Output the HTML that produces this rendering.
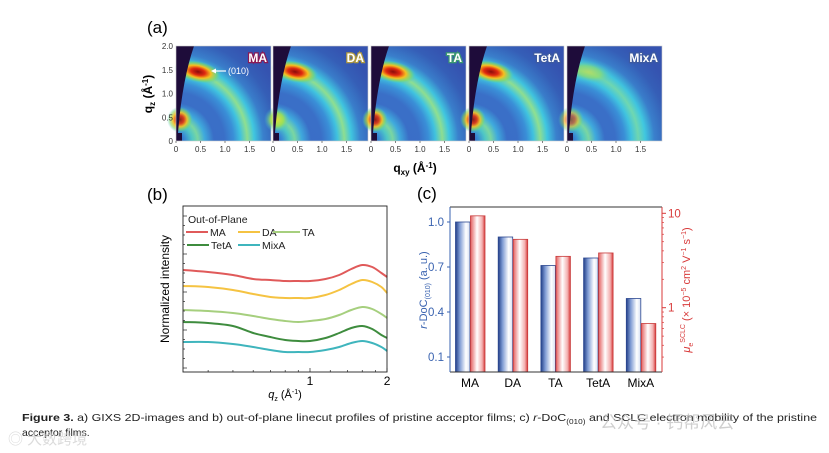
<!DOCTYPE html>
<html><head><meta charset="utf-8"><style>
html,body{margin:0;padding:0;background:#fff;}
svg{display:block;font-family:"Liberation Sans","Noto Sans CJK SC",sans-serif;}
</style></head><body>
<svg id="fig" width="829" height="453" viewBox="0 0 829 453" xmlns="http://www.w3.org/2000/svg">
<defs>
 <linearGradient id="gBlue" x1="0" x2="1" y1="0" y2="0">
  <stop offset="0" stop-color="#223f88"/><stop offset="0.3" stop-color="#7f9bd4"/><stop offset="0.72" stop-color="#ffffff"/><stop offset="1" stop-color="#d5def2"/>
 </linearGradient>
 <linearGradient id="gRed" x1="0" x2="1" y1="0" y2="0">
  <stop offset="0" stop-color="#e46060"/><stop offset="0.45" stop-color="#ffffff"/><stop offset="0.8" stop-color="#f3b0b0"/><stop offset="1" stop-color="#d63a3a"/>
 </linearGradient>
 <radialGradient id="hotR"><stop offset="0" stop-color="#8a0c0c"/><stop offset="0.3" stop-color="#e02a10"/><stop offset="0.55" stop-color="#f6c020"/><stop offset="0.8" stop-color="#80d860" stop-opacity="0.6"/><stop offset="1" stop-color="#40c0e0" stop-opacity="0"/></radialGradient>
 <radialGradient id="hotY"><stop offset="0" stop-color="#e8e030"/><stop offset="0.5" stop-color="#a0e050"/><stop offset="1" stop-color="#40c0e0" stop-opacity="0"/></radialGradient>
</defs>

<text x="147" y="33" font-size="17">(a)</text>
<g id="panelA"></g>
<text transform="translate(152,94) rotate(-90)" text-anchor="middle" font-size="12" font-weight="bold">q<tspan font-size="8" dy="3">z</tspan><tspan dy="-3"> (Å</tspan><tspan font-size="8" dy="-4">-1</tspan><tspan dy="4">)</tspan></text>
<text x="415" y="172" text-anchor="middle" font-size="12" font-weight="bold">q<tspan font-size="8" dy="3">xy</tspan><tspan dy="-3"> (Å</tspan><tspan font-size="8" dy="-4">-1</tspan><tspan dy="4">)</tspan></text>

<text x="147" y="200" font-size="17">(b)</text>
<g id="panelB"></g>

<text x="417" y="199" font-size="17">(c)</text>
<g id="panelC"></g>

<g font-size="10.5" fill="#222">
 <text x="22" y="421" textLength="795" lengthAdjust="spacingAndGlyphs"><tspan font-weight="bold">Figure 3.</tspan> a) GIXS 2D-images and b) out-of-plane linecut profiles of pristine acceptor films; c) <tspan font-style="italic">r</tspan>-DoC<tspan font-size="7" dy="3">(010)</tspan><tspan dy="-3"> and SCLC electron mobility of the pristine</tspan></text>
 <text x="22" y="436">acceptor films.</text>
</g>
<text x="600" y="428" font-size="17" fill="#bbb" opacity="0.7">公众号 · 钙帮风云</text>
<text x="8" y="444" font-size="15" fill="#ccc" opacity="0.7">◎ 大数跨境</text>
</svg>
<script>
const NS="http://www.w3.org/2000/svg";
function mk(parent,tag,attrs,txt){const e=document.createElementNS(NS,tag);for(const k in attrs)e.setAttribute(k,attrs[k]);if(txt!==undefined)e.textContent=txt;parent.appendChild(e);return e;}

/* ---------- Panel (a) ---------- */
const samples=["MA","DA","TA","TetA","MixA"];
const hotStrength=[1.0,0.9,0.85,0.85,0.35];
const labelGlow=["#8a1a55","#b09a40","#3a9a70","#3d5aa0","#3d5aa0"];
const qTicks=["0","0.5","1.0","1.5"];
const qzTicks=["0","0.5","1.0","1.5","2.0"];
const A=document.getElementById('panelA');
const px0=[176,273,371,469,567], pw=95, py0=46, ph=95, pxu=49, pyu=47.5;
samples.forEach((s,i)=>{
  const g=mk(A,'g',{transform:`translate(${px0[i]},${py0})`});
  
  
  const d=mk(g,'defs',{});
  const rg=mk(d,'radialGradient',{id:'ring'+i,gradientUnits:'userSpaceOnUse',cx:0,cy:ph,r:115});
  const st=[[0,'#3050b0'],[0.08,'#3a90d8'],[0.14,'#50d0c8'],[0.19,'#80e0a0'],[0.25,'#40b0e0'],[0.33,'#3a70c8'],[0.42,'#3a70c8'],[0.5,'#3a90d8'],[0.56,'#40c4e0'],[0.62,i==4?'#70d8b0':'#90e090'],[0.68,'#40c8e0'],[0.76,'#3a80cc'],[0.88,'#3560b8'],[1,'#3553b0']];
  st.forEach(a=>mk(rg,'stop',{offset:a[0],'stop-color':a[1]}));
  mk(g,'rect',{x:0,y:0,width:pw,height:ph,fill:'url(#ring'+i+')'});
  const fade=mk(d,'linearGradient',{id:'fade'+i,x1:0,x2:1,y1:1,y2:0});
  mk(fade,'stop',{offset:0,'stop-color':'#3553b0','stop-opacity':0.1});
  mk(fade,'stop',{offset:0.5,'stop-color':'#3553b0','stop-opacity':0});
  mk(fade,'stop',{offset:1,'stop-color':'#3553b0','stop-opacity':0.25});
  mk(g,'rect',{x:0,y:0,width:pw,height:ph,fill:'url(#fade'+i+')'});
  const h=hotStrength[i];
  mk(g,'ellipse',{cx:22,cy:ph-1.5*pyu+2,rx:24,ry:11,transform:`rotate(12 22 ${ph-1.5*pyu+2})`,fill:h>0.5?'url(#hotR)':'url(#hotY)',opacity:Math.min(1,h+0.2)});
  mk(g,'ellipse',{cx:4,cy:ph-0.45*pyu,rx:13,ry:13,fill:i==1?'url(#hotY)':'url(#hotR)',opacity:i==4?0.6:0.9});
  mk(g,'path',{d:`M0,0 L18,0 Q6,35 2,${ph-8} L0,${ph-8} Z`,fill:'#1e0c3a'});
  mk(g,'rect',{x:0,y:ph-8,width:6,height:8,fill:'#1e0c3a'});
  mk(g,'rect',{x:0,y:0,width:pw,height:ph,fill:'none',stroke:'#ccc','stroke-width':0.6});
  const t=mk(g,'text',{x:pw-4,y:16,'text-anchor':'end','font-size':12,'font-weight':'bold',fill:'#fff',stroke:labelGlow[i],'stroke-width':2.5,'paint-order':'stroke'},s);
  
  
  qTicks.forEach((q,k)=>{mk(A,'text',{x:px0[i]+k*0.5*pxu,y:152,'text-anchor':'middle','font-size':8,fill:'#333'},q);
    mk(A,'line',{x1:px0[i]+k*0.5*pxu,x2:px0[i]+k*0.5*pxu,y1:py0+ph,y2:py0+ph+2,stroke:'#333','stroke-width':0.6});});
});
qzTicks.forEach((q,k)=>{mk(A,'text',{x:173,y:py0+ph-k*0.5*pyu+3,'text-anchor':'end','font-size':8,fill:'#333'},q);});
const arr=mk(A,'g',{});


mk(arr,'line',{x1:226,x2:214,y1:71,y2:71,stroke:'#fff','stroke-width':1.2});
mk(arr,'path',{d:'M211,71 L216,68.5 L216,73.5 Z',fill:'#fff'});
mk(arr,'text',{x:228,y:74,'font-size':9,fill:'#fff'},'(010)');

/* ---------- Panel (b) ---------- */
const qVals=[0.32,0.4,0.5,0.6,0.7,0.8,0.9,1.0,1.15,1.3,1.45,1.6,1.75,1.9,2.0];
const seriesNames=["MA","DA","TA","TetA","MixA"];
const seriesColors=["#e05a5a","#f5c342","#a6cf7e","#3e8c3e","#3fb5bd"];
const intMA=[102,100,97,93,92,91,91,91,93,97,103,107,105,99,95];
const intDA=[86,85,82,78,75,74,74,74,77,82,88,92,90,85,79];
const intTA=[62,61,59,56,53,51,50,51,53,57,62,65,63,58,54];
const intTetA=[50,49,46,39,35,32,31,31,34,39,44,46,43,37,34];
const intMixA=[30,30,28,25,22,20,20,20,22,25,29,31,29,25,21];
const allInt=[intMA,intDA,intTA,intTetA,intMixA];
const B=document.getElementById('panelB');
const bL=183,bR=387,bT=206,bB=372;
const xB=q=>310+256*Math.log10(q);
const yB=v=>bB-v*(bB-bT)/166;
allInt.forEach((vals,si)=>{
  const pts=vals.map((v,k)=>[xB(qVals[k]),yB(v)]);
  let d='M'+pts[0][0].toFixed(1)+','+pts[0][1].toFixed(1);
  for(let k=0;k<pts.length-1;k++){const p0=pts[Math.max(0,k-1)],p1=pts[k],p2=pts[k+1],p3=pts[Math.min(pts.length-1,k+2)];
    d+=` C${(p1[0]+(p2[0]-p0[0])/6).toFixed(1)},${(p1[1]+(p2[1]-p0[1])/6).toFixed(1)} ${(p2[0]-(p3[0]-p1[0])/6).toFixed(1)},${(p2[1]-(p3[1]-p1[1])/6).toFixed(1)} ${p2[0].toFixed(1)},${p2[1].toFixed(1)}`;}
  const p=mk(B,'path',{d:d,fill:'none',stroke:seriesColors[si],'stroke-width':2});
  
  
});
const fr=mk(B,'rect',{x:bL,y:bT,width:bR-bL,height:bB-bT,fill:'none',stroke:'#222','stroke-width':0.9});


for(let y=bT+10;y<bB;y+=9.5){mk(B,'line',{x1:bL,x2:bL+(Math.round((y-bT)/9.5)%4==1?4:2),y1:y,y2:y,stroke:'#222','stroke-width':0.7});}
[0.4,0.5,0.6,0.7,0.8,0.9,1,2].forEach(q=>{const x=xB(q);mk(B,'line',{x1:x,x2:x,y1:bB,y2:bB-(q==1||q==2?4:2),stroke:'#222','stroke-width':0.7});});
[1.2,1.4,1.6,1.8].forEach(q=>{const x=xB(q);mk(B,'line',{x1:x,x2:x,y1:bB,y2:bB-2,stroke:'#222','stroke-width':0.7});});
mk(B,'text',{x:xB(1),y:385,'text-anchor':'middle','font-size':12},'1');
mk(B,'text',{x:xB(2),y:385,'text-anchor':'middle','font-size':12},'2');
const xt=mk(B,'text',{x:285,y:398,'text-anchor':'middle','font-size':11});


xt.innerHTML='<tspan font-style="italic">q</tspan><tspan font-size="7" dy="3">z</tspan><tspan dy="-3"> (Å</tspan><tspan font-size="7" dy="-4">-1</tspan><tspan dy="4">)</tspan>';
const yt=mk(B,'text',{transform:'translate(169,289) rotate(-90)','text-anchor':'middle','font-size':12},'Normalized intensity');


mk(B,'text',{x:188,y:223,'font-size':10.5,fill:'#222'},'Out-of-Plane');
const legPos=[[186,232],[238,232],[273,232],[187,245],[238,245]];
seriesNames.forEach((n,si)=>{
  const g=mk(B,'g',{});
  
  
  const [x,y]=legPos[si];const len=si==2?27:22;
  mk(g,'line',{x1:x,x2:x+len,y1:y,y2:y,stroke:seriesColors[si],'stroke-width':2});
  mk(g,'text',{x:x+len+2,y:y+4,'font-size':10.5,fill:'#222'},n);
});

/* ---------- Panel (c) ---------- */
const barCats=["MA","DA","TA","TetA","MixA"];
const docVals=[1.0,0.9,0.71,0.76,0.49];
const mobVals=[9.4,5.3,3.5,3.8,0.68];
const leftTicks=["0.1","0.4","0.7","1.0"];
const rightTicks=["1","10"];
const C=document.getElementById('panelC');
const cL=450,cR=662,cT=207,cB=372;
const yL=v=>cB-v*150;
const yR=v=>307.7-94.4*Math.log10(v);
const xC=i=>470+i*42.7;
const bw=14.5;
barCats.forEach((c,i)=>{
  const b=mk(C,'rect',{x:xC(i)-bw,y:yL(docVals[i]),width:bw,height:cB-yL(docVals[i]),fill:'url(#gBlue)',stroke:'#2b4790','stroke-width':0.8});
  
  
  const r=mk(C,'rect',{x:xC(i)+0.5,y:yR(mobVals[i]),width:bw,height:cB-yR(mobVals[i]),fill:'url(#gRed)',stroke:'#c83a3a','stroke-width':0.8});
  
  
  mk(C,'text',{x:xC(i),y:387,'text-anchor':'middle','font-size':12},c);
});
mk(C,'line',{x1:cL,x2:cR,y1:cB,y2:cB,stroke:'#333','stroke-width':0.9});
mk(C,'line',{x1:cL,x2:cR,y1:cT,y2:cT,stroke:'#333','stroke-width':0.9});
mk(C,'line',{x1:cL,x2:cL,y1:cT,y2:cB,stroke:'#3a63b0','stroke-width':1});
mk(C,'line',{x1:cR,x2:cR,y1:cT,y2:cB,stroke:'#d83a3a','stroke-width':1});
leftTicks.forEach(t=>{const y=yL(parseFloat(t));mk(C,'line',{x1:cL-3,x2:cL,y1:y,y2:y,stroke:'#3a63b0'});mk(C,'text',{x:cL-6,y:y+4,'text-anchor':'end','font-size':11.5,fill:'#3a63b0'},t);});
rightTicks.forEach(t=>{const y=yR(parseFloat(t));mk(C,'line',{x1:cR,x2:cR+4,y1:y,y2:y,stroke:'#d83a3a'});mk(C,'text',{x:cR+6,y:y+4,'font-size':11.5,fill:'#d83a3a'},t);});
[0.3,0.4,0.5,0.6,0.7,0.8,0.9,2,3,4,5,6,7,8,9].forEach(v=>{const y=yR(v);if(y>cT&&y<cB)mk(C,'line',{x1:cR,x2:cR+2,y1:y,y2:y,stroke:'#d83a3a','stroke-width':0.7});});
const lt=mk(C,'text',{transform:'translate(427,290) rotate(-90)','text-anchor':'middle','font-size':11,fill:'#3a63b0'});


lt.innerHTML='<tspan font-style="italic">r</tspan>-DoC<tspan font-size="7" dy="3">(010)</tspan><tspan dy="-3"> (a. u.)</tspan>';
const rt=mk(C,'text',{transform:'translate(690,290) rotate(-90)','text-anchor':'middle','font-size':11,fill:'#d83a3a'});


rt.innerHTML='<tspan font-style="italic">μ</tspan><tspan font-size="7" dy="3">e</tspan><tspan font-size="7" dy="-8">SCLC</tspan><tspan dy="5"> (× 10</tspan><tspan font-size="7" dy="-4">−5</tspan><tspan dy="4"> cm</tspan><tspan font-size="7" dy="-4">2</tspan><tspan dy="4"> V</tspan><tspan font-size="7" dy="-4">−1</tspan><tspan dy="4"> s</tspan><tspan font-size="7" dy="-4">−1</tspan><tspan dy="4">)</tspan>';
</script>
</body></html>
